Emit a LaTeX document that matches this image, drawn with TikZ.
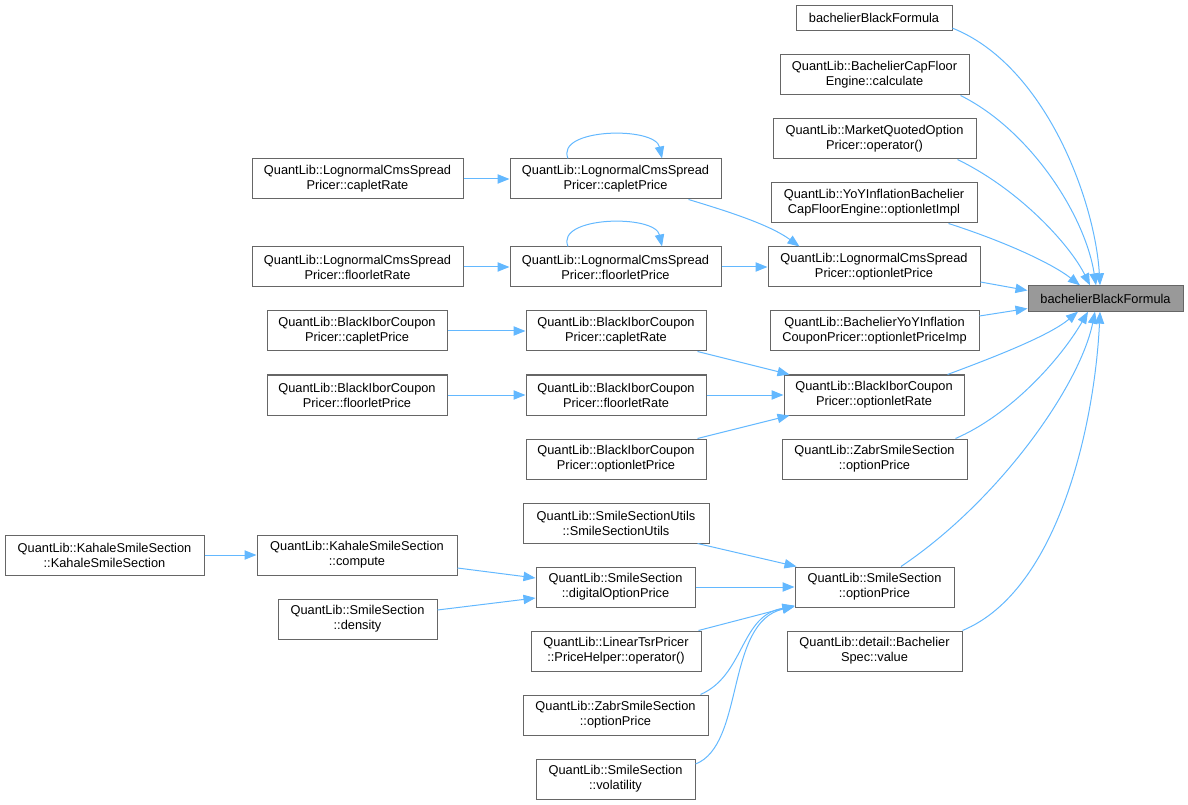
\documentclass[tikz,border=0pt]{standalone}
\usepackage{fontspec}
\setmainfont{Liberation Sans}
\usetikzlibrary{arrows.meta,calc}
\definecolor{edgeblue}{HTML}{63B8FF}
\definecolor{boxgray}{HTML}{666666}
\definecolor{mainfill}{HTML}{999999}

\begin{document}
\begin{tikzpicture}[x=0.75pt,y=-0.75pt,
    fn/.style={draw=boxgray,fill=white,line width=0.75pt,align=center,inner sep=0pt,
      minimum height=30pt,font=\fontsize{9.6}{11.25}\selectfont},
    oneline/.style={minimum height=19pt},
    bw/.style={minimum width=#1*0.75pt},
    call/.style={draw=edgeblue,line width=0.75pt,-{Triangle[length=9pt,width=7pt]}}]
  \useasboundingbox (0,0) rectangle (1188,805);
  %--- called function ---
  \node[fn,oneline,bw=155,fill=mainfill] (main) at (1105.5,298.5) {bachelierBlackFormula};
  %--- direct callers ---
  \node[fn,oneline,bw=156] (bbf) at (874,18) {bachelierBlackFormula};
  \node[fn,bw=189] (cfe) at (874.5,75) {QuantLib::BachelierCapFloor\\Engine::calculate};
  \node[fn,bw=203] (mqo) at (874.5,139) {QuantLib::MarketQuotedOption\\Pricer::operator()};
  \node[fn,bw=206] (yoy) at (874,203) {QuantLib::YoYInflationBachelier\\CapFloorEngine::optionletImpl};
  \node[fn,bw=212] (lcsop) at (874,267) {QuantLib::LognormalCmsSpread\\Pricer::optionletPrice};
  \node[fn,bw=209] (cpop) at (874.5,331) {QuantLib::BachelierYoYInflation\\CouponPricer::optionletPriceImp};
  \node[fn,bw=180] (bior) at (874,395) {QuantLib::BlackIborCoupon\\Pricer::optionletRate};
  \node[fn,bw=185] (zsop) at (874.5,459) {QuantLib::ZabrSmileSection\\::optionPrice};
  \node[fn,bw=159] (ssop) at (874.5,587) {QuantLib::SmileSection\\::optionPrice};
  \node[fn,bw=175] (bspec) at (874.5,651) {QuantLib::detail::Bachelier\\Spec::value};
  %--- second level ---
  \node[fn,bw=211] (lcscp) at (615.5,179) {QuantLib::LognormalCmsSpread\\Pricer::capletPrice};
  \node[fn,bw=211] (lcsfp) at (615.5,267) {QuantLib::LognormalCmsSpread\\Pricer::floorletPrice};
  \node[fn,bw=180] (bicr) at (616,331) {QuantLib::BlackIborCoupon\\Pricer::capletRate};
  \node[fn,bw=180] (bifr) at (616,395) {QuantLib::BlackIborCoupon\\Pricer::floorletRate};
  \node[fn,bw=180] (biop) at (616,459) {QuantLib::BlackIborCoupon\\Pricer::optionletPrice};
  \node[fn,bw=186] (ssu) at (616,523) {QuantLib::SmileSectionUtils\\::SmileSectionUtils};
  \node[fn,bw=159] (dop) at (615.5,587) {QuantLib::SmileSection\\::digitalOptionPrice};
  \node[fn,bw=170] (ltsr) at (616,651) {QuantLib::LinearTsrPricer\\::PriceHelper::operator()};
  \node[fn,bw=185] (zsop2) at (615.5,715) {QuantLib::ZabrSmileSection\\::optionPrice};
  \node[fn,bw=159] (vol) at (615.5,779) {QuantLib::SmileSection\\::volatility};
  %--- third level ---
  \node[fn,bw=211] (lcscr) at (357.5,179) {QuantLib::LognormalCmsSpread\\Pricer::capletRate};
  \node[fn,bw=211] (lcsfr) at (357.5,267) {QuantLib::LognormalCmsSpread\\Pricer::floorletRate};
  \node[fn,bw=180] (bicp) at (357,331) {QuantLib::BlackIborCoupon\\Pricer::capletPrice};
  \node[fn,bw=180] (bifp) at (357,395) {QuantLib::BlackIborCoupon\\Pricer::floorletPrice};
  \node[fn,bw=200] (kcomp) at (357,555) {QuantLib::KahaleSmileSection\\::compute};
  \node[fn,bw=159] (dens) at (357.5,619) {QuantLib::SmileSection\\::density};
  \node[fn,bw=199] (kctor) at (104.5,555) {QuantLib::KahaleSmileSection\\::KahaleSmileSection};
  %--- calls into bachelierBlackFormula ---
  \draw[call] ($(bbf.south east)+(0,-3)$) .. controls (1045,65) and (1095,200) .. ($(main.north)+(-5.5,0)$);
  \draw[call] ($(cfe.south east)+(-9,0)$) .. controls (1030,130) and (1085,215) .. ($(main.north)+(-9.5,0)$);
  \draw[call] ($(mqo.south east)+(-19,0)$) .. controls (1020,190) and (1070,245) .. ($(main.north)+(-15.5,0)$);
  \draw[call] ($(yoy.south east)+(-29,0)$) .. controls (1000,240) and (1050,262) .. ($(main.north)+(-25.5,0)$);
  \draw[call] ($(lcsop.east)+(0,15)$) -- ($(main.west)+(0,-8)$);
  \draw[call] ($(cpop.east)+(0,-15)$) -- ($(main.west)+(0,10)$);
  \draw[call] ($(bior.north east)+(-17,0)$) .. controls (1000,355) and (1050,335) .. ($(main.south)+(-27.5,0)$);
  \draw[call] ($(zsop.north east)+(-12,0)$) .. controls (1010,415) and (1060,360) .. ($(main.south)+(-17.5,0)$);
  \draw[call] ($(ssop.north)+(26.5,0)$) .. controls (1000,500) and (1080,385) .. ($(main.south)+(-10.5,0)$);
  \draw[call] (bspec.north east) .. controls (1060,590) and (1095,420) .. ($(main.south)+(-5.5,0)$);
  %--- second level calls ---
  \draw[call] ($(lcscp.north)+(-47.5,0)$) .. controls (555,128) and (655,126) .. ($(lcscp.north)+(46.5,0)$);
  \draw[call] ($(lcsfp.north)+(-47.5,0)$) .. controls (555,216) and (655,214) .. ($(lcsfp.north)+(46.5,0)$);
  \draw[call] ($(lcscp.south east)+(-33,0)$) .. controls (730,212) and (770,225) .. ($(lcsop.north west)+(32,0)$);
  \draw[call] (lcsfp) -- (lcsop);
  \draw[call] ($(bicr.south east)+(-9,0)$) -- ($(bior.north west)+(6,0)$);
  \draw[call] (bifr) -- (bior);
  \draw[call] ($(biop.north east)+(-9,0)$) -- ($(bior.south west)+(6,0)$);
  \draw[call] ($(ssu.south east)+(-12,0)$) -- ($(ssop.north west)+(2,0)$);
  \draw[call] (dop) -- (ssop);
  \draw[call] ($(ltsr.north east)+(-3,0)$) -- ($(ssop.south west)+(0,-2)$);
  \draw[call] ($(zsop2.north east)+(-8,0)$) .. controls (745,675) and (740,615) .. ($(ssop.south west)+(0,-1)$);
  \draw[call] ($(vol.east)+(0,-15)$) .. controls (745,745) and (725,622) .. ($(ssop.south west)+(0,-1)$);
  %--- third level calls ---
  \draw[call] (lcscr) -- (lcscp);
  \draw[call] (lcsfr) -- (lcsfp);
  \draw[call] (bicp) -- (bicr);
  \draw[call] (bifp) -- (bifr);
  \draw[call] (kctor) -- (kcomp);
  \draw[call] ($(kcomp.east)+(0,13)$) -- ($(dop.west)+(0,-9)$);
  \draw[call] ($(dens.east)+(0,-9)$) -- ($(dop.west)+(0,11)$);
\end{tikzpicture}
\end{document}
